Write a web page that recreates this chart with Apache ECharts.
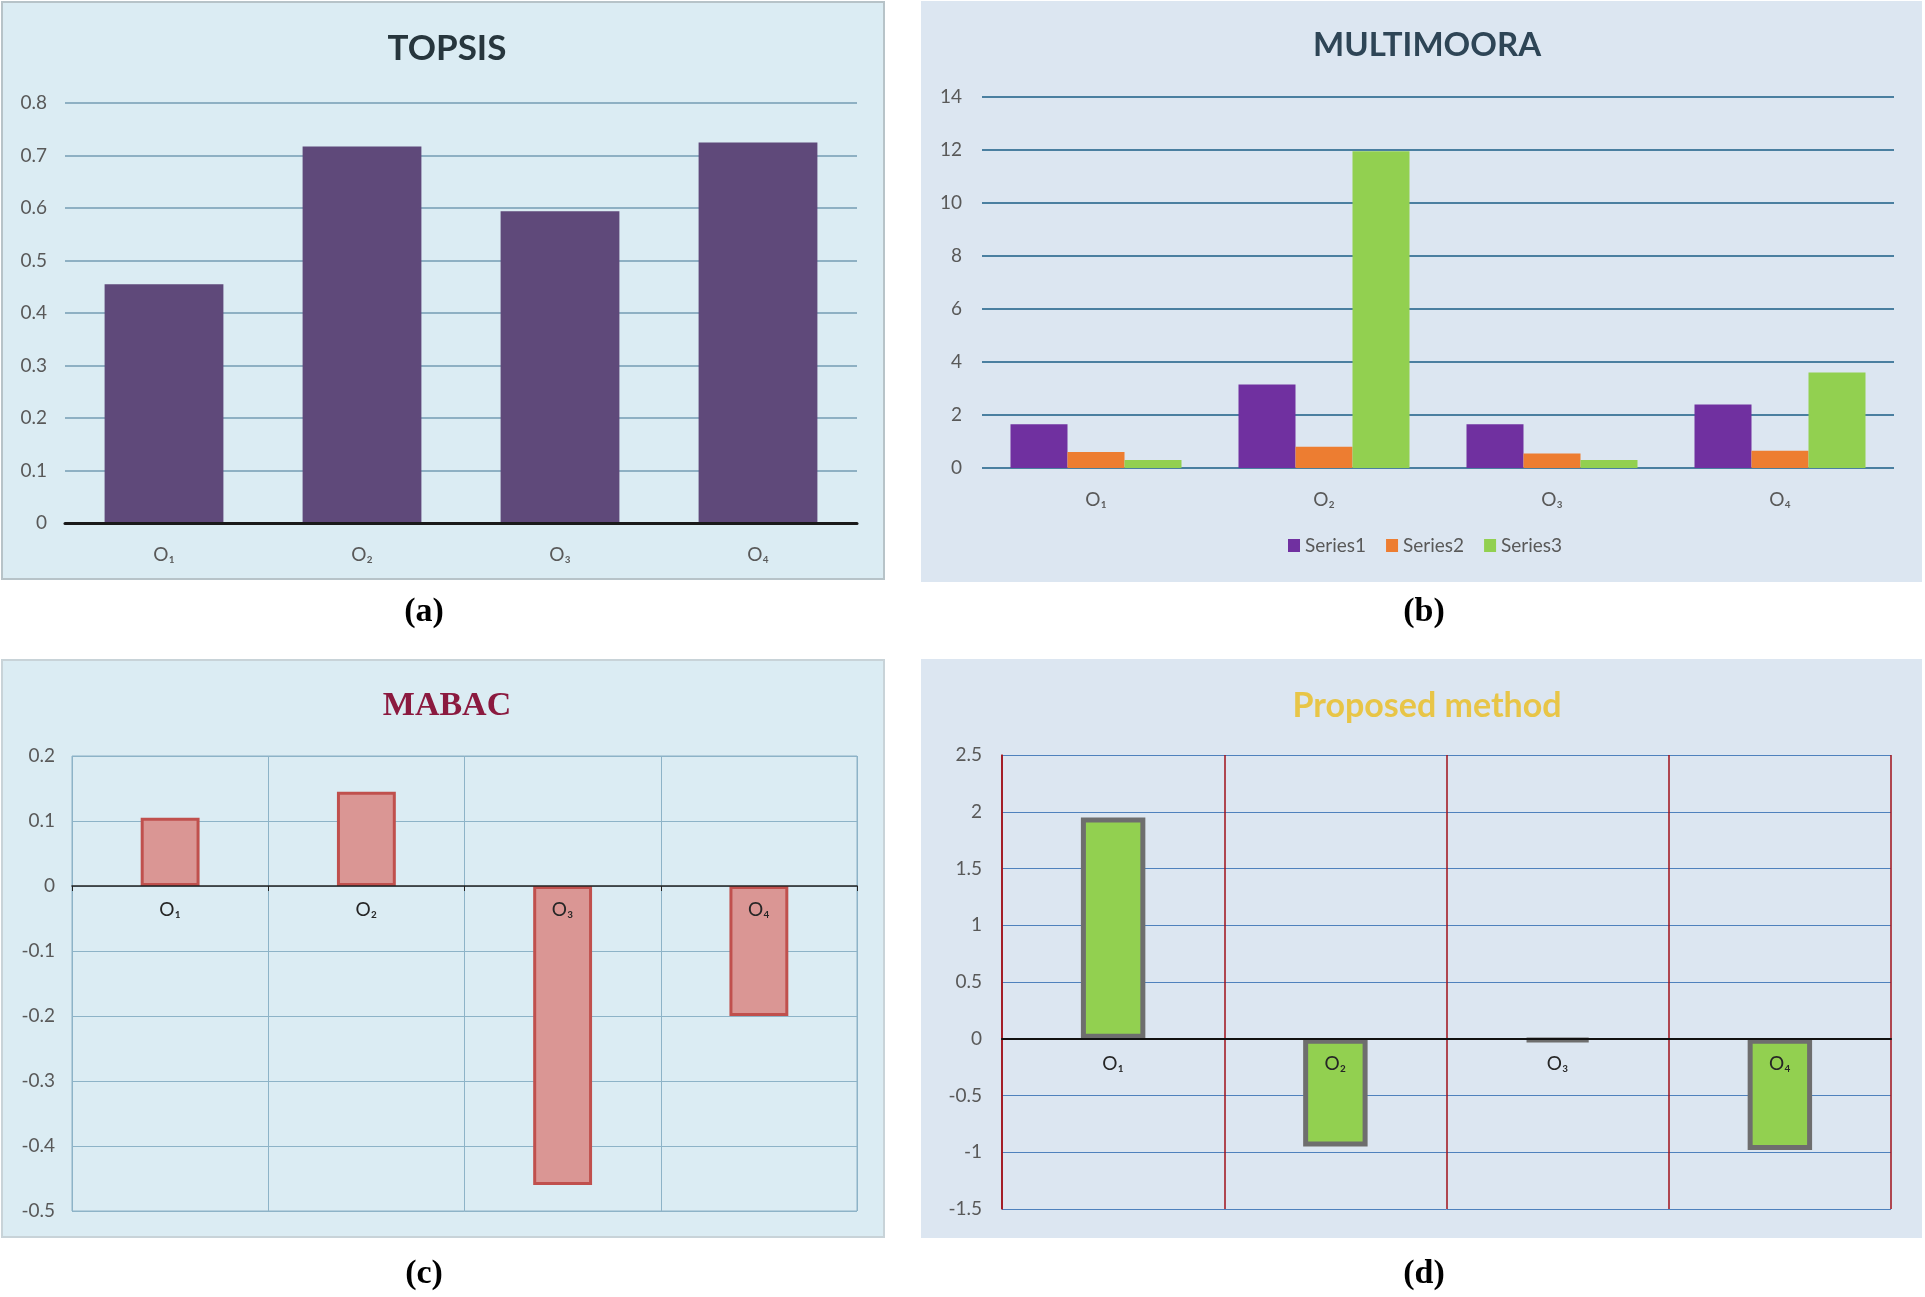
<!DOCTYPE html>
<html><head><meta charset="utf-8">
<script src="https://cdn.jsdelivr.net/npm/echarts@6/dist/echarts.min.js"></script>
<style>html,body{margin:0;padding:0;background:#fff}#c{width:1925px;height:1297px}</style>
</head><body><div id="c"></div>
<script>
const categories = ['O\u2081','O\u2082','O\u2083','O\u2084'];
const topsisValues = [0.455, 0.717, 0.594, 0.725];
const mmSeries1 = [1.65, 3.15, 1.65, 2.4];
const mmSeries2 = [0.6, 0.8, 0.55, 0.65];
const mmSeries3 = [0.3, 11.95, 0.3, 3.6];
const mmNames = ['Series1','Series2','Series3'];
const mabacValues = [0.105, 0.145, -0.46, -0.2];
const proposedValues = [1.95, -0.95, -0.02, -0.98];
const titles = ['TOPSIS','MULTIMOORA','MABAC','Proposed method'];
const panelLabels = ['(a)','(b)','(c)','(d)'];

const F = 'Lato, "Open Sans", sans-serif';
const tickLbl = {color:'#595959', fontSize:19, fontFamily:F};
const chart = echarts.init(document.getElementById('c'), null, {renderer:'canvas'});

const panels = [
  {x:2,y:2,w:882,h:577,fill:'#dbecf3',stroke:'#b7c3c8'},
  {x:922,y:2,w:999,h:579,fill:'#dce6f1',stroke:'#dce6f1'},
  {x:2,y:660,w:882,h:577,fill:'#dbecf3',stroke:'#c8d3d8'},
  {x:922,y:660,w:999,h:577,fill:'#dce6f1',stroke:'#dce6f1'}
];
const graphic = panels.map(p=>({type:'rect',z:-10,shape:{x:p.x,y:p.y,width:p.w,height:p.h},style:{fill:p.fill,stroke:p.stroke,lineWidth:2}}));
[[424,612],[1424,612],[424,1274],[1424,1274]].forEach((pt,i)=>{
  graphic.push({type:'text',x:pt[0],y:pt[1],style:{text:panelLabels[i],font:'bold 34px "Liberation Serif", serif',fill:'#000',textAlign:'center',textVerticalAlign:'middle'}});
});

// grid boxes (layout)
const G = [
  {left:65, width:792, top:103, height:420},
  {left:982, width:912, top:97, height:371},
  {left:72, width:785, top:756, height:455},
  {left:1002, width:889, top:755, height:454}
];
const yr = [[0,0.8,0.1],[0,14,2],[-0.5,0.2,0.1],[-1.5,2.5,0.5]];
function zeroOffset(i){ // move category axis up to the zero line
  const r = yr[i]; return -G[i].height * (0 - r[0]) / (r[1] - r[0]);
}

const option = {
  animation:false,
  backgroundColor:'#ffffff',
  graphic: graphic,
  title:[
    {text:titles[0],left:442,top:26,textAlign:'center',textStyle:{fontSize:35,fontWeight:'bold',color:'#27363d',fontFamily:F}},
    {text:titles[1],left:1422,top:24,textAlign:'center',textStyle:{fontSize:33,fontWeight:'bold',color:'#2e4556',fontFamily:F}},
    {text:titles[2],left:442,top:684,textAlign:'center',textStyle:{fontSize:34,fontWeight:'bold',color:'#8b1a3f',fontFamily:'"Liberation Serif", "DejaVu Serif", serif'}},
    {text:titles[3],left:1422,top:684,textAlign:'center',textStyle:{fontSize:34,fontWeight:'bold',color:'#e8c547',fontFamily:F}}
  ],
  legend:{
    data:mmNames, left:1283, top:531, itemWidth:12, itemHeight:13, itemGap:20,
    icon:'rect', textStyle:{color:'#595959',fontSize:19,fontFamily:F}
  },
  grid:[
    Object.assign({}, G[0]),
    Object.assign({}, G[1]),
    Object.assign({show:true, borderColor:'#8db3c7', borderWidth:1, backgroundColor:'transparent'}, G[2]),
    Object.assign({}, G[3])
  ],
  xAxis:[
    {gridIndex:0,type:'category',data:categories,z:5,axisLine:{lineStyle:{color:'#1a1a1a',width:3}},axisTick:{show:false},axisLabel:Object.assign({margin:22},tickLbl)},
    {gridIndex:1,type:'category',data:categories,axisLine:{show:false},axisTick:{show:false},axisLabel:Object.assign({margin:22},tickLbl)},
    {gridIndex:2,type:'category',data:categories,z:5,offset:zeroOffset(2),axisLine:{onZero:false,lineStyle:{color:'#222',width:1.5}},axisTick:{show:true,length:5,lineStyle:{color:'#222'}},
      splitLine:{show:true,lineStyle:{color:'#8db3c7',width:1}},axisLabel:Object.assign({},tickLbl,{margin:14,color:'#262626'})},
    {gridIndex:3,type:'category',data:categories,z:5,offset:zeroOffset(3),axisLine:{onZero:false,lineStyle:{color:'#111',width:2}},axisTick:{show:false},
      splitLine:{show:true,lineStyle:{color:'#a0101a',width:1.5}},axisLabel:Object.assign({},tickLbl,{margin:16,color:'#262626'})}
  ],
  yAxis:[0,1,2,3].map(i=>({
    gridIndex:i,type:'value',min:yr[i][0],max:yr[i][1],interval:yr[i][2],
    axisLine:i===3?{show:true,lineStyle:{color:'#a0101a',width:1.5}}:{show:false},
    axisTick:{show:false},
    axisLabel:Object.assign({margin:[18,20,17,20][i]},tickLbl),
    splitLine:{lineStyle:[{color:'#8eb0c3',width:2},{color:'#4a7fa0',width:2},{color:'#8db3c7',width:1},{color:'#4f81bd',width:1}][i]}
  })),
  series:[
    {type:'bar',xAxisIndex:0,yAxisIndex:0,data:topsisValues,barCategoryGap:'40%',itemStyle:{color:'#5f497a'}},
    {type:'bar',name:mmNames[0],xAxisIndex:1,yAxisIndex:1,data:mmSeries1,barGap:'0%',barCategoryGap:'25%',itemStyle:{color:'#7030a0'}},
    {type:'bar',name:mmNames[1],xAxisIndex:1,yAxisIndex:1,data:mmSeries2,barGap:'0%',barCategoryGap:'25%',itemStyle:{color:'#ed7d31'}},
    {type:'bar',name:mmNames[2],xAxisIndex:1,yAxisIndex:1,data:mmSeries3,barGap:'0%',barCategoryGap:'25%',itemStyle:{color:'#92d050'}},
    {type:'bar',xAxisIndex:2,yAxisIndex:2,data:mabacValues,barWidth:'30%',itemStyle:{color:'#da9694',borderColor:'#c0504d',borderWidth:3}},
    {type:'bar',xAxisIndex:3,yAxisIndex:3,data:proposedValues,barWidth:'29%',itemStyle:{color:'#92d050',borderColor:'#6e6e6e',borderWidth:5}}
  ]
};
chart.setOption(option);
</script>
</body></html>
